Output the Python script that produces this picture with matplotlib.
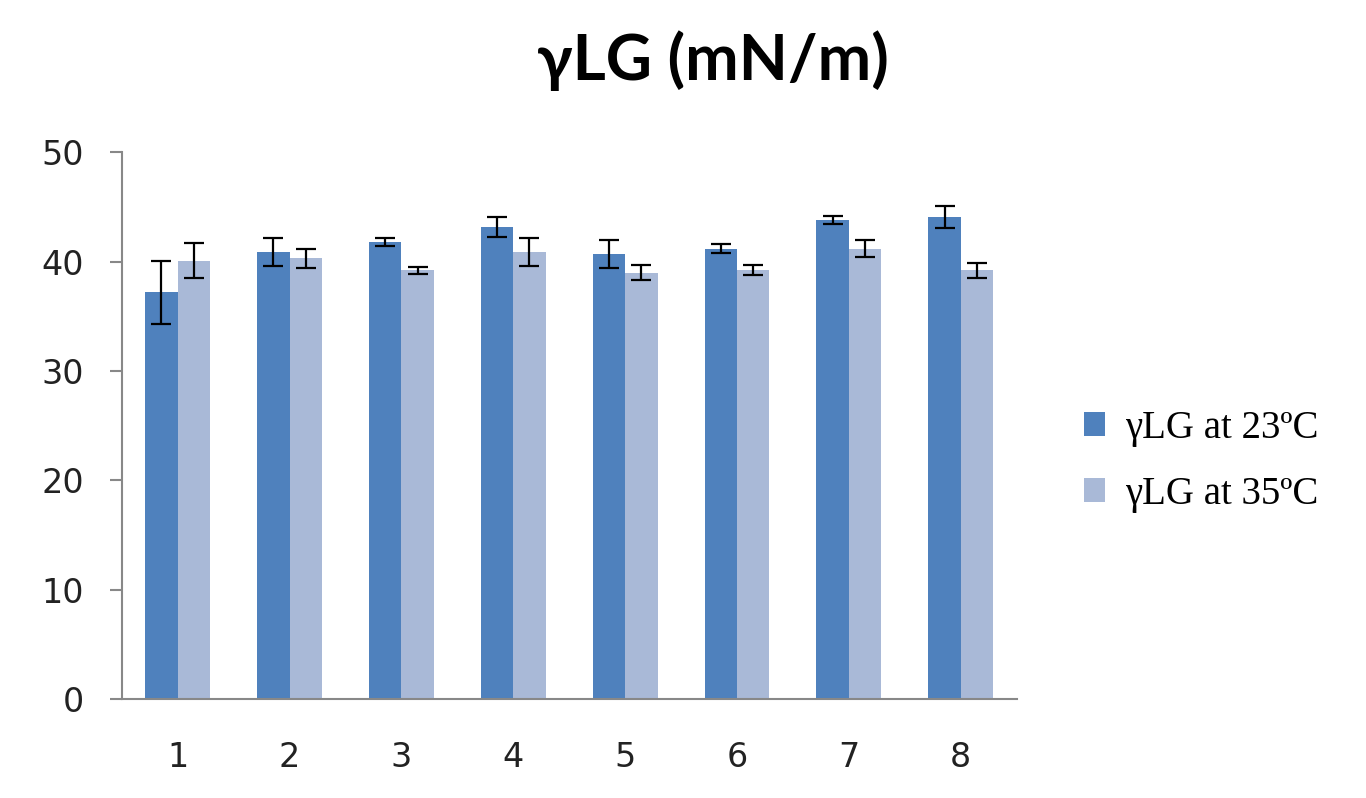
import matplotlib
matplotlib.use("Agg")
import matplotlib.pyplot as plt
import numpy as np

categories = ["1", "2", "3", "4", "5", "6", "7", "8"]
gamma_23 = [37.2, 40.9, 41.8, 43.2, 40.7, 41.2, 43.8, 44.1]
err_23 = [2.9, 1.3, 0.4, 0.9, 1.3, 0.45, 0.4, 1.0]
gamma_35 = [40.1, 40.3, 39.2, 40.9, 39.0, 39.2, 41.2, 39.2]
err_35 = [1.6, 0.9, 0.3, 1.3, 0.7, 0.45, 0.75, 0.7]
labels = ["γLG at 23ºC", "γLG at 35ºC"]
title = "γLG (mN/m)"

c_dark = "#4F81BD"
c_light = "#A9B9D7"

fig = plt.figure(figsize=(13.66, 7.98), dpi=100)
ax = fig.add_axes([0.0891, 0.1241, 0.7443 - 0.0891, 0.8091 - 0.1241])

x = np.arange(1, len(categories) + 1)
w = 0.29
ekw = dict(ecolor="black", elinewidth=1.6, capsize=7, capthick=1.6)
ax.bar(x - w / 2, gamma_23, w, color=c_dark, yerr=err_23, error_kw=ekw, label=labels[0], zorder=2)
ax.bar(x + w / 2, gamma_35, w, color=c_light, yerr=err_35, error_kw=ekw, label=labels[1], zorder=2)

ax.set_xlim(0.5, len(categories) + 0.5)
ax.set_ylim(0, 50)
ax.set_yticks([0, 10, 20, 30, 40, 50])
ax.set_xticks(x)
ax.set_xticklabels(categories)

for s in ["top", "right"]:
    ax.spines[s].set_visible(False)
for s in ["left", "bottom"]:
    ax.spines[s].set_color("#888888")
    ax.spines[s].set_linewidth(1.5)

ax.tick_params(axis="y", direction="out", length=9, width=1.5, color="#888888",
               labelsize=24, labelcolor="#222222", pad=18)
ax.tick_params(axis="x", length=0, labelsize=24, labelcolor="#222222", pad=30)
for t in ax.get_xticklabels() + ax.get_yticklabels():
    t.set_fontfamily("DejaVu Sans")

fig.text(0.522, 0.90, title, ha="center", va="baseline",
         fontsize=46, fontweight="bold", family="Lato")

leg = ax.legend(loc="center left", bbox_to_anchor=(0.7936, 0.422),
                bbox_transform=fig.transFigure, frameon=False,
                prop={"family": "Liberation Serif", "size": 28},
                handlelength=0.55, handleheight=0.55, handletextpad=0.5,
                labelspacing=0.75, borderpad=0, borderaxespad=0)

fig.savefig("out.png", dpi=100)
